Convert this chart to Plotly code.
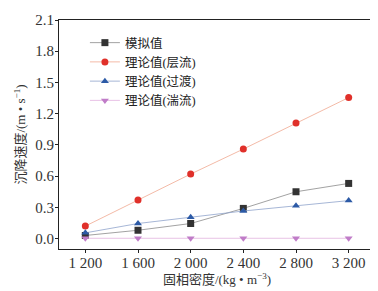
import plotly.graph_objects as go

density = [1200, 1600, 2000, 2400, 2800, 3200]
x_ticktext = ["1 200", "1 600", "2 000", "2 400", "2 800", "3 200"]
sim = [0.03, 0.08, 0.145, 0.29, 0.45, 0.53]
laminar = [0.12, 0.37, 0.62, 0.86, 1.11, 1.355]
transition = [0.055, 0.145, 0.205, 0.265, 0.315, 0.365]
turbulent = [0.003, 0.003, 0.003, 0.003, 0.003, 0.003]
y_ticks = [0.0, 0.3, 0.6, 0.9, 1.2, 1.5, 1.8, 2.1]

names = ["模拟值", "理论值(层流)", "理论值(过渡)", "理论值(湍流)"]
series = [sim, laminar, transition, turbulent]
marker_colors = ["#333333", "#e0302a", "#2c5aa6", "#c07cc8"]
line_colors = ["#8a8a8a", "#f0a890", "#8fa3cc", "#e2b2e0"]
symbols = ["square", "circle", "triangle-up", "triangle-down"]

FONT = "Liberation Serif, Noto Sans CJK SC, serif"

fig = go.Figure()
for n, s, mc, lc, sym in zip(names, series, marker_colors, line_colors, symbols):
    fig.add_trace(go.Scatter(
        x=density, y=s, name=n, mode="lines+markers",
        line=dict(color=lc, width=0.8),
        marker=dict(symbol=sym, color=mc, size=7),
    ))

axis_common = dict(
    showline=True, linecolor="#222", linewidth=1, mirror=True,
    ticks="outside", ticklen=3, tickcolor="#222", showgrid=False,
    zeroline=False, automargin=False,
    tickfont=dict(family=FONT, size=15, color="#333"),
)

# page body has an 8px margin, so the figure is offset by 8px
fig.update_layout(
    width=370, height=283,
    margin=dict(l=51, r=3, t=12, b=42),
    paper_bgcolor="white", plot_bgcolor="white",
    font=dict(family=FONT, size=13, color="#333"),
    showlegend=True,
    legend=dict(x=0.082, y=0.965, xanchor="left", yanchor="top",
                bgcolor="rgba(0,0,0,0)", font=dict(size=12.5, color="#222"),
                tracegroupgap=0),
    xaxis=dict(range=[1000, 3400], tickvals=density, ticktext=x_ticktext,
               ticklabelstandoff=-3,
               title=dict(text="固相密度/(kg • m<sup>−3</sup>)", standoff=2,
                          font=dict(size=13)),
               **axis_common),
    yaxis=dict(range=[-0.1, 2.1], tickvals=y_ticks,
               ticktext=[f"{v:.1f}" for v in y_ticks],
               ticklabelstandoff=-2,
               title=dict(text="沉降速度/(m • s<sup>−1</sup>)", standoff=6,
                          font=dict(size=13)),
               **axis_common),
)

fig.write_html("out.html")
